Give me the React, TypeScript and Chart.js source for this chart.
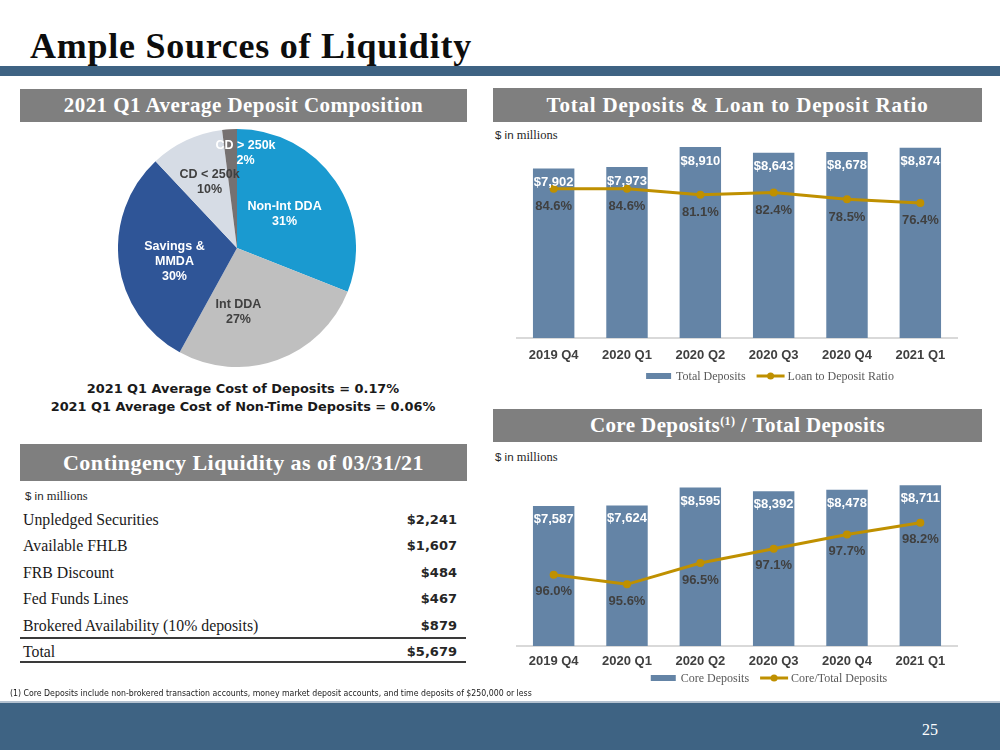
import React, { useEffect, useRef } from "react";
import { Chart, registerables } from "chart.js";

Chart.register(...registerables);

// ---------------- DATA ----------------
const quarters = ["2019 Q4", "2020 Q1", "2020 Q2", "2020 Q3", "2020 Q4", "2021 Q1"];
const totalDeposits = [7902, 7973, 8910, 8643, 8678, 8874];
const loanToDepositRatio = [84.6, 84.6, 81.1, 82.4, 78.5, 76.4];
const coreDeposits = [7587, 7624, 8595, 8392, 8478, 8711];
const coreToTotalRatio = [96.0, 95.6, 96.5, 97.1, 97.7, 98.2];

const pieLabels = [["Non-Int DDA"], ["Int DDA"], ["Savings &", "MMDA"], ["CD < 250k"], ["CD > 250k"]];
const pieValues = [31, 27, 30, 10, 2];

const liquidityItems = [
  "Unpledged Securities",
  "Available FHLB",
  "FRB Discount",
  "Fed Funds Lines",
  "Brokered Availability (10% deposits)",
];
const liquidityValues = [2241, 1607, 484, 467, 879];
const liquidityTotal = 5679;

const costLines = [
  "2021 Q1 Average Cost of Deposits = 0.17%",
  "2021 Q1 Average Cost of Non-Time Deposits = 0.06%",
];

// ---------------- STYLE ----------------
const SANS = '"Liberation Sans", Arial, sans-serif';
const SERIF = '"Liberation Serif", "Times New Roman", serif';
const VERD = '"DejaVu Sans", Verdana, sans-serif';
const NAVY = "#3E6383";
const HEADER_GRAY = "#7F7F7F";
const BAR_BLUE = "#6484A6";
const GOLD = "#BF9000";
const DARK_TEXT = "#404040";

const pieColors = ["#1A9AD0", "#BFBFBF", "#2F5597", "#D6DCE5", "#767171"];
const pieTextColors = ["#FFFFFF", DARK_TEXT, "#FFFFFF", DARK_TEXT, "#FFFFFF"];
const pieLabelFrac = 0.55;
const pieNudges = [
  [-6.6, 3.3],
  [-20.7, 2.4],
  [2.4, 5.2],
  [0.4, -6.3],
  [12.6, -29.7],
];

const money = (v: number) => "$" + v.toLocaleString("en-US");

// ---------------- PIE ----------------
function PieChart() {
  const ref = useRef<HTMLCanvasElement>(null);
  useEffect(() => {
    const labelPlugin = {
      id: "pieLabels",
      afterDatasetsDraw(chart: any) {
        const ctx = chart.ctx;
        const meta = chart.getDatasetMeta(0);
        ctx.save();
        ctx.font = `bold 12.5px ${SANS}`;
        ctx.textAlign = "center";
        ctx.textBaseline = "middle";
        meta.data.forEach((arc: any, i: number) => {
          const mid = (arc.startAngle + arc.endAngle) / 2;
          const r = arc.outerRadius * pieLabelFrac;
          const cx = arc.x + Math.cos(mid) * r + pieNudges[i][0];
          const cy = arc.y + Math.sin(mid) * r + pieNudges[i][1];
          const lines = [...pieLabels[i], pieValues[i] + "%"];
          const lh = 15;
          const y0 = cy - ((lines.length - 1) * lh) / 2;
          ctx.fillStyle = pieTextColors[i];
          lines.forEach((t, k) => ctx.fillText(t, cx, y0 + k * lh));
        });
        ctx.restore();
      },
    };
    const chart = new Chart(ref.current!, {
      type: "pie",
      data: {
        labels: pieLabels.map((l) => l.join(" ")),
        datasets: [
          {
            data: pieValues,
            backgroundColor: pieColors,
            borderWidth: 0,
          },
        ],
      },
      options: {
        animation: false,
        responsive: false,
        events: [],
        layout: { padding: 0 },
        plugins: { legend: { display: false }, tooltip: { enabled: false } },
      },
      plugins: [labelPlugin],
    } as any);
    return () => chart.destroy();
  }, []);
  return (
    <canvas
      ref={ref}
      width={238}
      height={238}
      style={{ position: "absolute", left: 118, top: 129, width: 238, height: 238 }}
    />
  );
}

// ---------------- COMBO ----------------
type ComboProps = {
  left: number;
  top: number;
  width: number;
  height: number;
  barData: number[];
  lineData: number[];
  barName: string;
  lineName: string;
  yMax: number;
  y1Min: number;
  y1Max: number;
  axisHeight: number;
  tickPadding: number;
  barLabelDy: number;
  lineLabelDy: number;
  legendCenterX: number;
  legendDy: number;
};

function ComboChart(p: ComboProps) {
  const ref = useRef<HTMLCanvasElement>(null);
  useEffect(() => {
    const labelPlugin = {
      id: "valueLabels",
      afterDatasetsDraw(chart: any) {
        const ctx = chart.ctx;
        ctx.save();
        ctx.font = `bold 13px ${SANS}`;
        ctx.textAlign = "center";
        ctx.textBaseline = "middle";
        const lineMeta = chart.getDatasetMeta(0);
        const barMeta = chart.getDatasetMeta(1);
        barMeta.data.forEach((el: any, i: number) => {
          ctx.fillStyle = "#FFFFFF";
          ctx.fillText(money(p.barData[i]), el.x, el.y + p.barLabelDy);
        });
        lineMeta.data.forEach((el: any, i: number) => {
          ctx.fillStyle = DARK_TEXT;
          ctx.fillText(p.lineData[i].toFixed(1) + "%", el.x, el.y + p.lineLabelDy);
        });
        ctx.restore();
      },
    };
    const legendPlugin = {
      id: "customLegend",
      afterDraw(chart: any) {
        const ctx = chart.ctx;
        ctx.save();
        ctx.font = `12px ${SERIF}`;
        ctx.textBaseline = "middle";
        ctx.textAlign = "left";
        const w1 = ctx.measureText(p.barName).width;
        const w2 = ctx.measureText(p.lineName).width;
        const barSw = 25, lineSw = 28, gap = 5, itemGap = 11;
        const total = barSw + gap + w1 + itemGap + lineSw + 3 + w2;
        let x = p.legendCenterX - total / 2;
        const y = chart.chartArea.bottom + p.legendDy;
        ctx.fillStyle = BAR_BLUE;
        ctx.fillRect(x, y - 3, barSw, 6);
        x += barSw + gap;
        ctx.fillStyle = "#595959";
        ctx.fillText(p.barName, x, y + 1);
        x += w1 + itemGap;
        ctx.strokeStyle = GOLD;
        ctx.lineWidth = 3;
        ctx.beginPath();
        ctx.moveTo(x, y);
        ctx.lineTo(x + lineSw, y);
        ctx.stroke();
        ctx.fillStyle = GOLD;
        ctx.beginPath();
        ctx.arc(x + lineSw / 2, y, 3.5, 0, Math.PI * 2);
        ctx.fill();
        x += lineSw + 3;
        ctx.fillStyle = "#595959";
        ctx.fillText(p.lineName, x, y + 1);
        ctx.restore();
      },
    };
    const chart = new Chart(ref.current!, {
      data: {
        labels: quarters,
        datasets: [
          {
            type: "line",
            label: p.lineName,
            data: p.lineData,
            yAxisID: "y1",
            borderColor: GOLD,
            backgroundColor: GOLD,
            borderWidth: 3,
            pointRadius: 4,
            pointHoverRadius: 4,
            pointBackgroundColor: GOLD,
            pointBorderWidth: 0,
            tension: 0,
            order: 0,
          },
          {
            type: "bar",
            label: p.barName,
            data: p.barData,
            yAxisID: "y",
            backgroundColor: BAR_BLUE,
            categoryPercentage: 1,
            barPercentage: 0.565,
            order: 1,
          },
        ],
      },
      options: {
        animation: false,
        responsive: false,
        events: [],
        layout: { padding: 0 },
        plugins: { legend: { display: false }, tooltip: { enabled: false } },
        scales: {
          x: {
            grid: { display: false, drawTicks: false, tickLength: 0 },
            border: { display: true, color: "#D9D9D9", width: 2 },
            ticks: {
              color: DARK_TEXT,
              font: { family: SANS, size: 13, weight: "bold" },
              padding: p.tickPadding,
              maxRotation: 0,
              autoSkip: false,
            },
            afterFit: (s: any) => {
              s.height = p.axisHeight;
            },
          },
          y: { display: false, min: 0, max: p.yMax },
          y1: { display: false, position: "right", min: p.y1Min, max: p.y1Max },
        },
      },
      plugins: [labelPlugin, legendPlugin],
    } as any);
    return () => chart.destroy();
  }, []);
  return (
    <canvas
      ref={ref}
      width={p.width}
      height={p.height}
      style={{ position: "absolute", left: p.left, top: p.top, width: p.width, height: p.height }}
    />
  );
}

// ---------------- PAGE ----------------
const abs = (s: React.CSSProperties): React.CSSProperties => ({ position: "absolute", ...s });

function Header({ left, top, width, height, size, spacing, children }: any) {
  return (
    <div
      style={abs({
        left,
        top,
        width,
        height,
        background: HEADER_GRAY,
        color: "#FFFFFF",
        fontFamily: SERIF,
        fontWeight: "bold",
        fontSize: size,
        letterSpacing: spacing,
        lineHeight: height + "px",
        textAlign: "center",
        whiteSpace: "nowrap",
      })}
    >
      {children}
    </div>
  );
}

function Millions({ left, top }: { left: number; top: number }) {
  return (
    <div style={abs({ left, top, fontFamily: SERIF, fontSize: 12.5, color: "#262626", lineHeight: "14px", whiteSpace: "nowrap" })}>
      <span style={{ fontFamily: SANS, fontSize: 11.5 }}>$ in</span> millions
    </div>
  );
}

export default function App() {
  useEffect(() => {
    document.body.style.margin = "0";
  }, []);
  const rowCenters = liquidityItems.map((_, i) => 520 + i * 26.4);
  const totalCenter = 652;
  return (
    <div style={abs({ left: 0, top: 0, width: 1000, height: 750, background: "#FFFFFF", overflow: "hidden" })}>
      {/* Title */}
      <div
        style={abs({
          left: 30,
          top: 28,
          fontFamily: SERIF,
          fontWeight: "bold",
          fontSize: 36,
          letterSpacing: 0.75,
          lineHeight: "36px",
          color: "#0D0D0D",
          whiteSpace: "nowrap",
        })}
      >
        Ample Sources of Liquidity
      </div>
      <div style={abs({ left: 0, top: 66, width: 1000, height: 10, background: NAVY })} />

      {/* Headers */}
      <Header left={20} top={89} width={447} height={33} size={21} spacing={0.45}>
        2021 Q1 Average Deposit Composition
      </Header>
      <Header left={493} top={88} width={489} height={34} size={21} spacing={0.8}>
        Total Deposits &amp; Loan to Deposit Ratio
      </Header>
      <Header left={493} top={409} width={489} height={33} size={21} spacing={0.4}>
        Core Deposits<sup style={{ fontSize: 12, lineHeight: 0, verticalAlign: "7px" }}>(1)</sup> / Total Deposits
      </Header>
      <Header left={20} top={444} width={447} height={37} size={22} spacing={0.45}>
        Contingency Liquidity as of 03/31/21
      </Header>

      {/* Pie */}
      <PieChart />
      {costLines.map((t, i) => (
        <div
          key={t}
          style={abs({
            left: 20,
            width: 446,
            top: 381 + i * 18,
            textAlign: "center",
            fontFamily: VERD,
            fontWeight: "bold",
            fontSize: 12.9,
            lineHeight: "16px",
            color: "#1A1A1A",
            whiteSpace: "nowrap",
          })}
        >
          {t}
        </div>
      ))}

      {/* Bar/line charts */}
      <Millions left={495} top={128} />
      <ComboChart
        left={513}
        top={141}
        width={448}
        height={247}
        barData={totalDeposits}
        lineData={loanToDepositRatio}
        barName="Total Deposits"
        lineName="Loan to Deposit Ratio"
        yMax={9000}
        y1Min={-2}
        y1Max={110}
        axisHeight={50}
        tickPadding={10}
        barLabelDy={14}
        lineLabelDy={18}
        legendCenterX={257}
        legendDy={38}
      />
      <Millions left={495} top={450} />
      <ComboChart
        left={513}
        top={476}
        width={448}
        height={215}
        barData={coreDeposits}
        lineData={coreToTotalRatio}
        barName="Core Deposits"
        lineName="Core/Total Deposits"
        yMax={9000}
        y1Min={93}
        y1Max={100}
        axisHeight={45}
        tickPadding={8}
        barLabelDy={13.5}
        lineLabelDy={17}
        legendCenterX={256}
        legendDy={32}
      />

      {/* Contingency table */}
      <Millions left={25} top={489} />
      {liquidityItems.map((name, i) => (
        <div
          key={name}
          style={abs({ left: 20, width: 446, top: rowCenters[i] - 12, height: 24, lineHeight: "24px", whiteSpace: "nowrap" })}
        >
          <span style={abs({ left: 3, fontFamily: SERIF, fontSize: 15.8, color: "#1A1A1A" })}>{name}</span>
          <span style={abs({ right: 9, fontFamily: VERD, fontWeight: "bold", fontSize: 13, color: "#262626" })}>
            {money(liquidityValues[i])}
          </span>
        </div>
      ))}
      <div style={abs({ left: 20, top: 637, width: 446, height: 2, background: "#3A3A3A" })} />
      <div style={abs({ left: 20, width: 446, top: totalCenter - 12, height: 24, lineHeight: "24px", whiteSpace: "nowrap" })}>
        <span style={abs({ left: 3, fontFamily: SERIF, fontSize: 15.8, color: "#1A1A1A" })}>Total</span>
        <span style={abs({ right: 9, fontFamily: VERD, fontWeight: "bold", fontSize: 13, color: "#262626" })}>
          {money(liquidityTotal)}
        </span>
      </div>
      <div style={abs({ left: 20, top: 661, width: 446, height: 2, background: "#3A3A3A" })} />

      {/* Footnote */}
      <div
        style={abs({
          left: 10,
          top: 687,
          fontFamily: '"Liberation Sans Narrow", "DejaVu Sans Condensed", sans-serif',
          fontSize: 8.7,
          lineHeight: "12px",
          color: "#1A1A1A",
          whiteSpace: "nowrap",
        })}
      >
        (1) Core Deposits include non-brokered transaction accounts, money market deposit accounts, and time deposits of $250,000 or less
      </div>

      {/* Footer */}
      <div style={abs({ left: 0, top: 701, width: 1000, height: 2, background: "#B4C2D0" })} />
      <div style={abs({ left: 0, top: 703, width: 1000, height: 47, background: NAVY })} />
      <div
        style={abs({
          left: 922,
          top: 721,
          fontFamily: SERIF,
          fontSize: 16,
          lineHeight: "18px",
          color: "#FFFFFF",
        })}
      >
        25
      </div>
    </div>
  );
}
